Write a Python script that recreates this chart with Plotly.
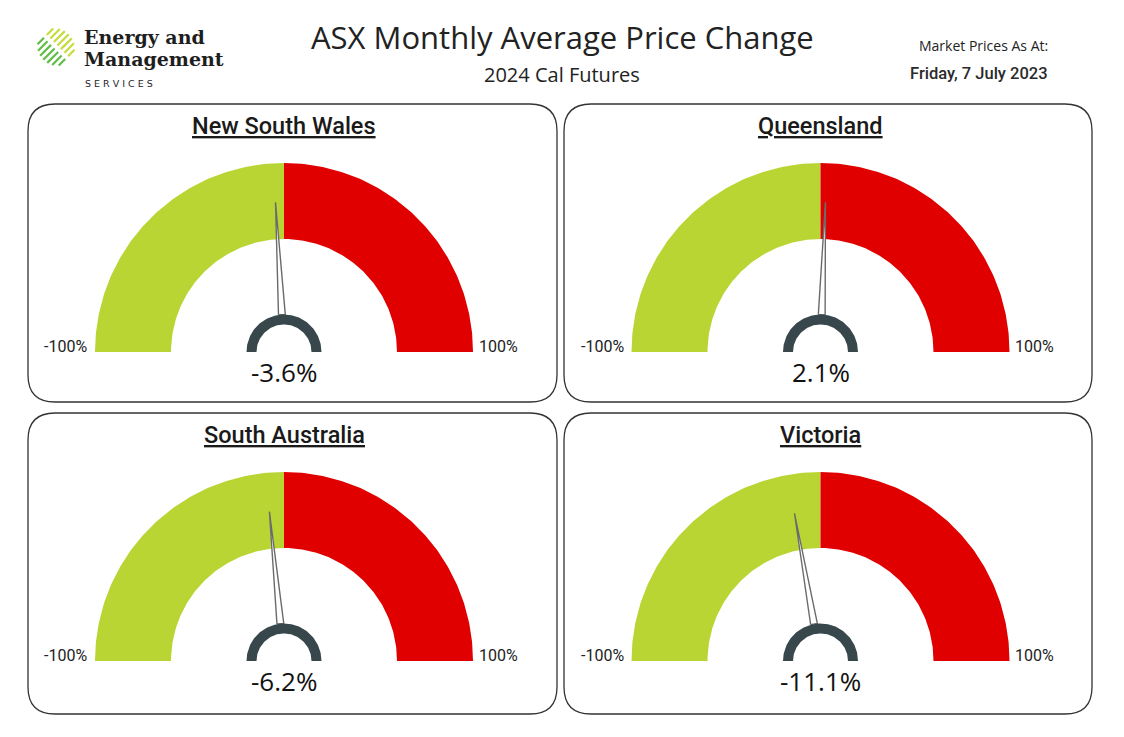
import numpy as np
import plotly.graph_objects as go

# ---------------- data ----------------
regions = ["New South Wales", "Queensland", "South Australia", "Victoria"]
changes = [-3.6, 2.1, -6.2, -11.1]          # % change in monthly average price
scale_min = -100
scale_max = 100
low_band = [-100, 0]                          # green (price fall)
high_band = [0, 100]                          # red (price rise)
tick_labels = ["-100%", "100%"]
title_text = "ASX Monthly Average Price Change"
subtitle_text = "2024 Cal Futures"
asat_label = "Market Prices As At:"
asat_date = "Friday, 7 July 2023"

# ---------------- styling / layout ----------------
W, H = 1124, 737
OFF = 8  # page offset of the plot in the browser
GREEN = "#B9D534"
RED = "#E00000"
HUB = "#37474B"
NEEDLE_LINE = "#6B6B6B"
TXT = "#222222"
FONT = "Open Sans"
TFONT = "Roboto"


def PX(x):
    return (x - OFF) / W


def PY(y):
    return 1 - (y - OFF) / H


panels = [(28, 104, 557, 402), (564, 104, 1092, 402),
          (28, 413, 557, 714), (564, 413, 1092, 714)]
centres = [(284, 352), (820.5, 352), (284, 661), (820.5, 661)]
R = 189.0
r_out, r_in = 1.0, 113 / R
hub_out, hub_in = 37.5 / R, 27.5 / R
tip_r = 150 / R
half_w = 3.4 / R


def ang(v):
    return np.pi * (scale_max - np.asarray(v, dtype=float)) / (scale_max - scale_min)


def annulus(v0, v1, ro, ri, n=120):
    th = ang(np.linspace(v0, v1, n))
    x = np.concatenate([ro * np.cos(th), ri * np.cos(th[::-1]), [ro * np.cos(th[0])]])
    y = np.concatenate([ro * np.sin(th), ri * np.sin(th[::-1]), [ro * np.sin(th[0])]])
    return x, y


fig = go.Figure()
annotations = []
shapes = []
layout_axes = {}

for i, (name, val) in enumerate(zip(regions, changes)):
    k = i + 1
    xa = "x" if k == 1 else f"x{k}"
    ya = "y" if k == 1 else f"y{k}"
    x0, y0, x1, y1 = panels[i]
    cx, cy = centres[i]
    layout_axes["xaxis" if k == 1 else f"xaxis{k}"] = dict(
        domain=[PX(x0), PX(x1)], range=[(x0 - cx) / R, (x1 - cx) / R],
        visible=False, fixedrange=True, anchor=ya)
    layout_axes["yaxis" if k == 1 else f"yaxis{k}"] = dict(
        domain=[PY(y1), PY(y0)], range=[(cy - y1) / R, (cy - y0) / R],
        visible=False, fixedrange=True, anchor=xa)

    # bands
    for band, col in ((low_band, GREEN), (high_band, RED)):
        bx, by = annulus(band[0], band[1], r_out, r_in)
        fig.add_trace(go.Scatter(x=bx, y=by, mode="lines", fill="toself",
                                 fillcolor=col, line=dict(width=0, color=col),
                                 hoverinfo="skip", showlegend=False,
                                 xaxis=xa, yaxis=ya))
    # needle
    th = float(ang(val))
    bxc, byc = hub_out * np.cos(th), hub_out * np.sin(th)
    tx, ty = -np.sin(th), np.cos(th)
    nx = [bxc + half_w * tx, tip_r * np.cos(th), bxc - half_w * tx, bxc + half_w * tx]
    ny = [byc + half_w * ty, tip_r * np.sin(th), byc - half_w * ty, byc + half_w * ty]
    fig.add_trace(go.Scatter(x=nx, y=ny, mode="lines", fill="toself",
                             fillcolor="white", line=dict(width=1.4, color=NEEDLE_LINE),
                             hoverinfo="skip", showlegend=False, xaxis=xa, yaxis=ya))
    # hub
    hx, hy = annulus(scale_min, scale_max, hub_out, hub_in)
    fig.add_trace(go.Scatter(x=hx, y=hy, mode="lines", fill="toself",
                             fillcolor=HUB, line=dict(width=0, color=HUB),
                             hoverinfo="skip", showlegend=False, xaxis=xa, yaxis=ya))

    # texts
    annotations.append(dict(x=-1.03, y=0.027, xref=xa, yref=ya, text=tick_labels[0],
                            showarrow=False, xanchor="right", yanchor="middle",
                            font=dict(family=TFONT, size=16, color=TXT)))
    annotations.append(dict(x=1.02, y=0.027, xref=xa, yref=ya, text=tick_labels[1],
                            showarrow=False, xanchor="left", yanchor="middle",
                            font=dict(family=TFONT, size=16, color=TXT)))
    annotations.append(dict(x=0, y=-0.105, xref=xa, yref=ya, text=f"{val:.1f}%",
                            showarrow=False, xanchor="center", yanchor="middle",
                            font=dict(family=FONT, size=26, color="#111111")))
    annotations.append(dict(x=PX(cx), y=PY(y0 + 22), xref="paper", yref="paper",
                            text=f"<u>{name}</u>", showarrow=False,
                            xanchor="center", yanchor="middle",
                            font=dict(family=TFONT, size=23.5, color="#1A1A1A", weight=500)))

    # rounded panel border
    rx, ry = 27 / W, 27 / H
    px0, px1 = PX(x0), PX(x1)
    py0, py1 = PY(y1), PY(y0)
    path = (f"M {px0 + rx},{py1} L {px1 - rx},{py1} Q {px1},{py1} {px1},{py1 - ry} "
            f"L {px1},{py0 + ry} Q {px1},{py0} {px1 - rx},{py0} "
            f"L {px0 + rx},{py0} Q {px0},{py0} {px0},{py0 + ry} "
            f"L {px0},{py1 - ry} Q {px0},{py1} {px0 + rx},{py1} Z")
    shapes.append(dict(type="path", path=path, xref="paper", yref="paper",
                       line=dict(color="#333333", width=1.3), layer="below"))

# header texts
annotations += [
    dict(x=PX(562), y=PY(37), xref="paper", yref="paper", text=title_text,
         showarrow=False, xanchor="center", yanchor="middle",
         font=dict(family=FONT, size=31, color=TXT)),
    dict(x=PX(562), y=PY(74), xref="paper", yref="paper", text=subtitle_text,
         showarrow=False, xanchor="center", yanchor="middle",
         font=dict(family=FONT, size=20, color=TXT)),
    dict(x=PX(1050), y=PY(46), xref="paper", yref="paper", text=asat_label,
         showarrow=False, xanchor="right", yanchor="middle",
         font=dict(family=FONT, size=14, color=TXT)),
    dict(x=PX(1050), y=PY(73), xref="paper", yref="paper", text=asat_date,
         showarrow=False, xanchor="right", yanchor="middle",
         font=dict(family=TFONT, size=16.5, color="#2A2A2A", weight=500)),
    dict(x=PX(82), y=PY(37), xref="paper", yref="paper", text="<b>Energy and</b>",
         showarrow=False, xanchor="left", yanchor="middle",
         font=dict(family="DejaVu Serif", size=19, color="#1E1E1E")),
    dict(x=PX(82), y=PY(59), xref="paper", yref="paper", text="<b>Management</b>",
         showarrow=False, xanchor="left", yanchor="middle",
         font=dict(family="DejaVu Serif", size=19, color="#1E1E1E")),
    dict(x=PX(83), y=PY(84), xref="paper", yref="paper", text="S E R V I C E S",
         showarrow=False, xanchor="left", yanchor="middle",
         font=dict(family="DejaVu Sans", size=9.5, color="#1E1E1E")),
]

# logo stripes (decorative)
lc = (56.0, 47.0)
lr = 19.0
for j, d in enumerate(np.arange(-15, 16, 5)):
    cxl = lc[0] + d / np.sqrt(2)
    cyl = lc[1] + d / np.sqrt(2)
    hl = np.sqrt(max(lr ** 2 - d ** 2, 0)) * 0.95
    ux, uy = 1 / np.sqrt(2), -1 / np.sqrt(2)
    gap = 2.0
    segs = [(-hl, -gap, "#62BD47"), (gap, hl, "#C6DC3C")]
    for a, b, col in segs:
        shapes.append(dict(type="line", xref="paper", yref="paper",
                           x0=PX(cxl + a * ux), y0=PY(cyl + a * uy),
                           x1=PX(cxl + b * ux), y1=PY(cyl + b * uy),
                           line=dict(color=col, width=2.2)))

fig.update_layout(width=W, height=H, margin=dict(l=0, r=0, t=0, b=0),
                  paper_bgcolor="white", plot_bgcolor="rgba(0,0,0,0)",
                  showlegend=False, annotations=annotations, shapes=shapes,
                  **layout_axes)
fig.write_html("out.html")
